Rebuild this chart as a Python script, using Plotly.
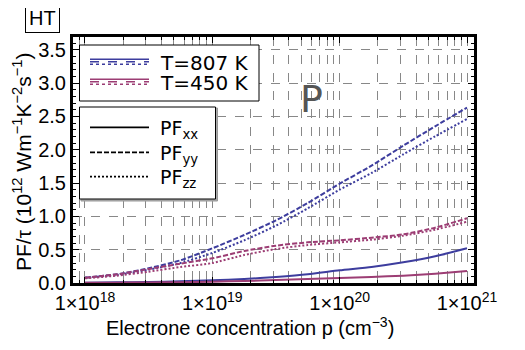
import plotly.graph_objects as go

# electron concentration (cm^-3)
conc = [1.0e18, 1.78e18, 3.16e18, 5.62e18, 1.0e19, 1.78e19, 3.16e19,
        5.62e19, 1.0e20, 1.78e20, 3.16e20, 5.62e20, 1.0e21]

# PF/tau, 10^12 W m^-1 K^-2 s^-1
pf_xx_807 = [0.005, 0.01, 0.015, 0.025, 0.04, 0.06, 0.09, 0.13, 0.19, 0.24, 0.31, 0.40, 0.52]
pf_yy_807 = [0.08, 0.13, 0.22, 0.34, 0.52, 0.72, 0.94, 1.20, 1.49, 1.76, 2.06, 2.35, 2.63]
pf_zz_807 = [0.08, 0.12, 0.20, 0.30, 0.45, 0.64, 0.86, 1.12, 1.40, 1.65, 1.93, 2.20, 2.46]
pf_xx_450 = [0.003, 0.005, 0.008, 0.012, 0.02, 0.03, 0.045, 0.06, 0.075, 0.09, 0.11, 0.14, 0.18]
pf_yy_450 = [0.08, 0.13, 0.21, 0.29, 0.37, 0.48, 0.56, 0.61, 0.64, 0.68, 0.73, 0.83, 0.97]
pf_zz_450 = [0.07, 0.11, 0.17, 0.24, 0.30, 0.42, 0.51, 0.57, 0.61, 0.65, 0.71, 0.80, 0.92]

x_tickvals = [1e18, 1e19, 1e20, 1e21]
x_ticktext = ['1×10<sup>18</sup>', '1×10<sup>19</sup>', '1×10<sup>20</sup>', '1×10<sup>21</sup>']
temp_labels = ['T=807 K', 'T=450 K']
comp_labels = ['PF<sub>xx</sub>', 'PF<sub>yy</sub>', 'PF<sub>zz</sub>']

blue = '#3d3d9e'
mag = '#9c3d74'
dashes = ['solid', '5px,2px', '2px,2px']

# the page body has an 8px margin, so the figure is shrunk by that much
PAGE_OFF = 8
W, H = 525 - PAGE_OFF, 350 - PAGE_OFF
L, R, T, B = 73, 474, 37, 283   # plot box in page pixels

def px(x):
    return (x - L) / (R - L)

def py(y):
    return (B - y) / (B - T)

fig = go.Figure()
series = [(pf_xx_807, blue, 0), (pf_yy_807, blue, 1), (pf_zz_807, blue, 2),
          (pf_xx_450, mag, 0), (pf_yy_450, mag, 1), (pf_zz_450, mag, 2)]
for vals, col, k in series:
    fig.add_trace(go.Scatter(
        x=conc, y=vals, mode='lines', showlegend=False,
        line=dict(color=col, width=2, dash=dashes[k], shape='spline', smoothing=0.6)))

shapes = []
annots = []

def note(x, y, text, size, family='DejaVu Sans', color='black', xanchor='center', **kw):
    annots.append(dict(xref='paper', yref='paper', x=px(x), y=py(y), text=text,
                       xanchor=xanchor, yanchor='middle', showarrow=False,
                       font=dict(family=family, size=size, color=color), **kw))

# legend 1 (temperatures)
shapes.append(dict(type='rect', xref='paper', yref='paper', layer='above',
                   x0=px(79.5), x1=px(259), y0=py(45), y1=py(101),
                   line=dict(color='black', width=1), fillcolor='white'))
for i, (col, yc) in enumerate([(blue, 61.7), (mag, 81.7)]):
    for k, off in enumerate([-2.5, 0, 2.5]):
        shapes.append(dict(type='line', xref='paper', yref='paper', layer='above',
                           x0=px(90), x1=px(149), y0=py(yc + off), y1=py(yc + off),
                           line=dict(color=col, width=1.6, dash=['solid', 'dash', 'dot'][k])))
    note(158, yc + 1, temp_labels[i], 20, xanchor='left')

# legend 2 (tensor components)
shapes.append(dict(type='rect', xref='paper', yref='paper', layer='above',
                   x0=px(81), x1=px(217.5), y0=py(201), y1=py(108),
                   line=dict(color='#999999', width=1), fillcolor='#aaaaaa'))
shapes.append(dict(type='rect', xref='paper', yref='paper', layer='above',
                   x0=px(79.5), x1=px(215.5), y0=py(199), y1=py(107),
                   line=dict(color='black', width=1), fillcolor='white'))
for k, yc in enumerate([127.3, 152.3, 176.7]):
    shapes.append(dict(type='line', xref='paper', yref='paper', layer='above',
                       x0=px(90), x1=px(149), y0=py(yc), y1=py(yc),
                       line=dict(color='black', width=1.8, dash=dashes[k])))
    note(158, yc + 2, comp_labels[k], 19, xanchor='left')

note(311, 99, 'P', 38, color='#555555')
note(42, 18, 'HT', 20, family='Liberation Sans',
     bordercolor='black', borderwidth=1, borderpad=3)
note(250, 326, 'Electrone concentration p (cm<sup>−3</sup>)', 20, family='Liberation Sans')
note(22, 162, 'PF/τ (10<sup>12</sup> Wm<sup>−1</sup>K<sup>−2</sup>s<sup>−1</sup>)', 21,
     family='Liberation Sans', textangle=-90)

fig.update_layout(width=W, height=H,
    margin=dict(l=L - PAGE_OFF, r=525 - R, t=T - PAGE_OFF, b=350 - B, autoexpand=False),
    paper_bgcolor='white', plot_bgcolor='white',
    font=dict(family='Liberation Sans', size=19, color='black'),
    shapes=shapes, annotations=annots)
fig.update_xaxes(
    type='log', range=[17.906, 21.055], automargin=False,
    tickvals=x_tickvals, ticktext=x_ticktext, tickfont=dict(size=20),
    ticks='inside', ticklen=6, tickwidth=1, tickcolor='black',
    showline=True, linewidth=3, linecolor='black', mirror='allticks',
    showgrid=True, gridcolor='#888888', griddash='dash', gridwidth=1,
    zeroline=False,
    minor=dict(dtick='D1', ticks='inside', ticklen=3, tickcolor='black',
               showgrid=True, gridcolor='#888888', griddash='dash', gridwidth=1)
)
fig.update_yaxes(
    range=[0, 3.69], dtick=0.5, tickformat='.1f', automargin=False,
    tickfont=dict(size=20),
    ticks='inside', ticklen=6, tickwidth=1, tickcolor='black',
    showline=True, linewidth=3, linecolor='black', mirror='allticks',
    showgrid=True, gridcolor='#888888', griddash='dash', gridwidth=1,
    zeroline=False,
    minor=dict(dtick=0.1, ticks='inside', ticklen=3, tickcolor='black', showgrid=False)
)

fig.write_html("out.html")
